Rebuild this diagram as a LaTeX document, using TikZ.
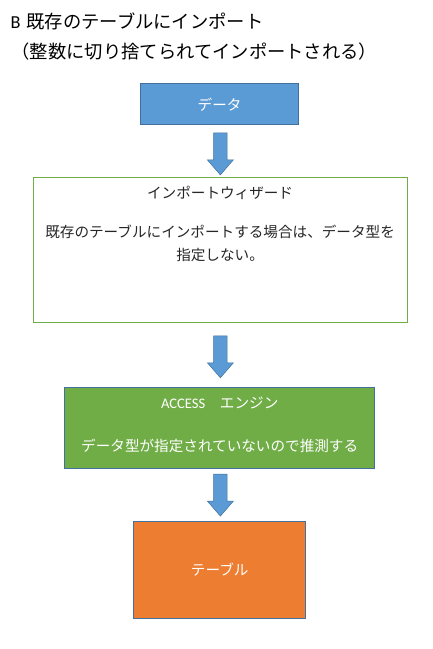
\documentclass[tikz,border=0pt]{standalone}
\usepackage{fontspec}
\setmainfont{Noto Sans CJK JP}
\newfontfamily\latinf{Carlito}
\usetikzlibrary{calc}
\definecolor{boxblue}{HTML}{5B9BD5}
\definecolor{edgeblue}{HTML}{41719C}
\definecolor{boxgreen}{HTML}{70AD47}
\definecolor{boxorange}{HTML}{ED7D31}
\definecolor{txtgray}{HTML}{262626}
\tikzset{
  flowbox/.style={draw=edgeblue, line width=0.8pt, inner sep=0pt, anchor=north west},
  bodytxt/.style={font=\fontsize{14.6}{23.3}\selectfont, inner sep=0pt, align=center},
  titletxt/.style={anchor=west, inner sep=0pt, font=\fontsize{18.3}{22}\selectfont},
  blockarrow/.style={draw=edgeblue, line width=0.5pt, fill=boxblue, line join=miter},
}
\newcommand{\fatarrow}[1]{%
  \draw[blockarrow] #1 ++(-6.7,0) -- ++(13.4,0) -- ++(0,-27) -- ++(6.3,0)
    -- ++(-13,-15) -- ++(-13,15) -- ++(6.3,0) -- cycle;}
\begin{document}
\begin{tikzpicture}[x=1pt,y=1pt]
\useasboundingbox (0,0) rectangle (432,-649);
% title
\node[titletxt] (t1) at (10.3,-21.7) {{\latinf B}\hspace{6.2pt}既存のテーブルにインポート};
\node[titletxt] (t2) at (11.5,-51.7) {（整数に切り捨てられてインポートされる）};
% boxes
\node[flowbox, fill=boxblue, minimum width=158.3pt, minimum height=41pt] (data) at (140,-83.3) {};
\node[bodytxt, text=white] (datat) at (data.center) {データ};
\node[flowbox, draw=boxgreen, minimum width=374pt, minimum height=144.4pt] (wiz) at (32.7,-177.3) {};
\node[bodytxt, text=txtgray] (wizt) at ($(wiz.north)+(0,-15.4)$) {インポートウィザード};
\node[bodytxt, text=txtgray, anchor=north] (wizb) at ($(wiz.north)+(0,-47.5)$) {既存のテーブルにインポートする場合は、データ型を\\指定しない。};
\node[flowbox, fill=boxgreen, minimum width=310pt, minimum height=81.6pt] (eng) at (64.3,-386.7) {};
\node[bodytxt, text=white] (engt) at ($(eng.north)+(0,-16)$) {{\latinf\fontsize{14.6}{18}\selectfont ACCESS}　エンジン};
\node[bodytxt, text=white] (engb) at ($(eng.north)+(0,-59.3)$) {データ型が指定されていないので推測する};
\node[flowbox, fill=boxorange, minimum width=172pt, minimum height=97.6pt] (tbl) at (133.3,-520.7) {};
\node[bodytxt, text=white] (tblt) at (tbl.center) {テーブル};
% arrows
\coordinate (a1) at ($(data.south)+(0.8,-7.8)$);
\coordinate (a2) at ($(wiz.south)+(0.3,-13.3)$);
\coordinate (a3) at ($(eng.south)+(0.7,-5)$);
\fatarrow{(a1)}
\fatarrow{(a2)}
\fatarrow{(a3)}
\end{tikzpicture}
\end{document}
